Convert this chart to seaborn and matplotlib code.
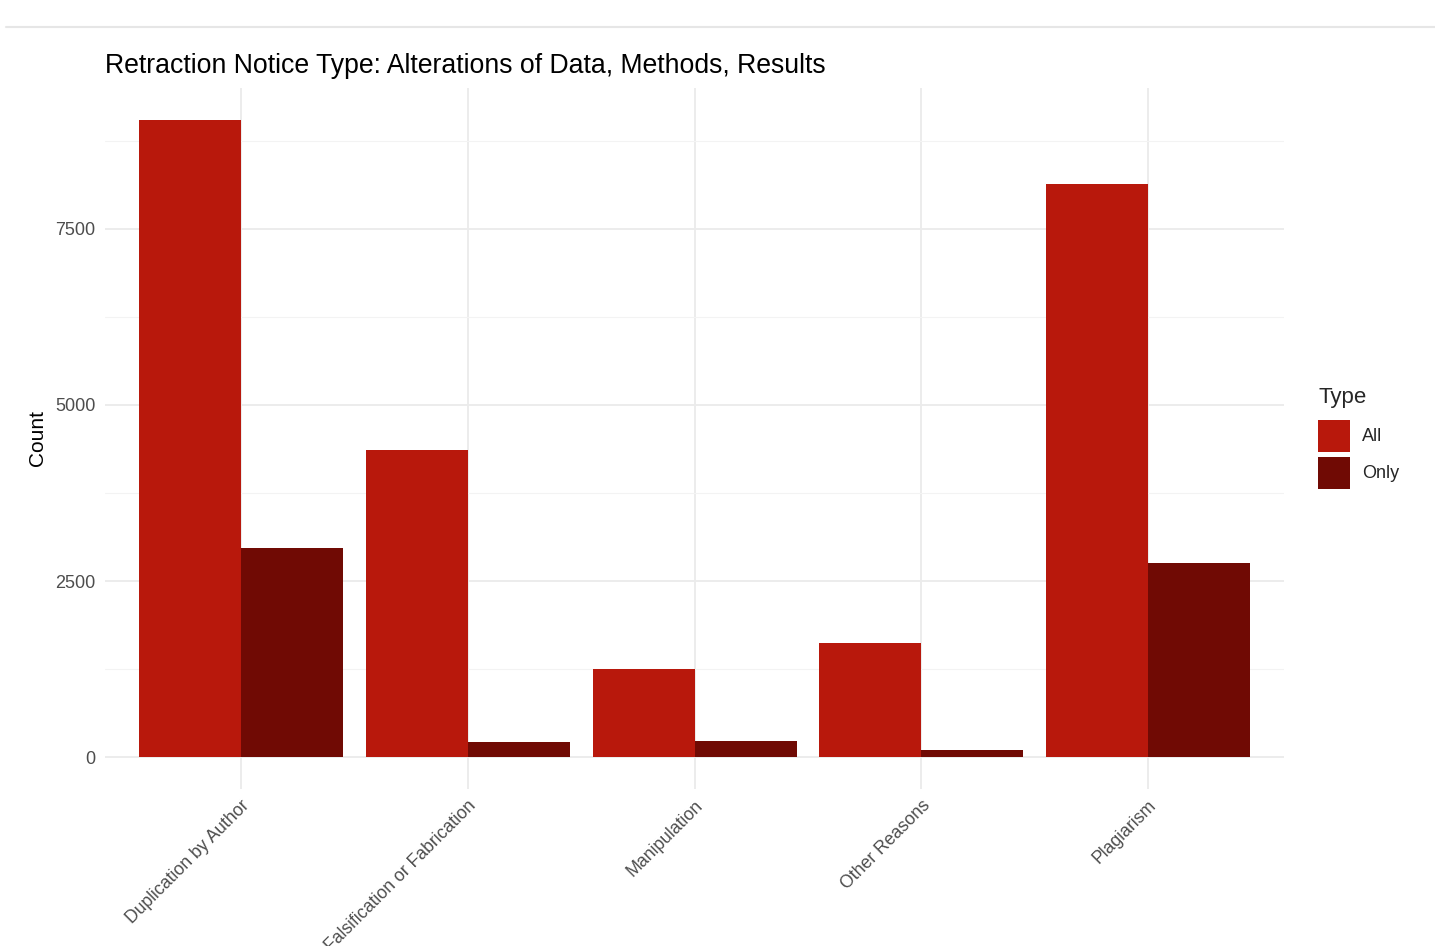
import numpy as np
import pandas as pd
import seaborn as sns
import matplotlib.pyplot as plt
from matplotlib.lines import Line2D
from matplotlib.ticker import MultipleLocator

# values
reasons = ["Duplication by Author", "Falsification or Fabrication", "Manipulation",
           "Other Reasons", "Plagiarism"]
all_counts = [9050, 4360, 1250, 1620, 8130]
only_counts = [2970, 215, 230, 100, 2760]
types = ["All", "Only"]
colors = {"All": "#B8180C", "Only": "#700A04"}

df = pd.DataFrame({
    "Reason": reasons * 2,
    "Count": all_counts + only_counts,
    "Type": ["All"] * len(reasons) + ["Only"] * len(reasons),
})

sns.set_theme(style="white")
plt.rcParams["font.family"] = ["Liberation Sans", "DejaVu Sans"]

fig = plt.figure(figsize=(14.35, 9.46), dpi=100)
ax = fig.add_axes([0.0732, 0.166, 0.8216, 0.741])

sns.barplot(data=df, x="Reason", y="Count", hue="Type", order=reasons, hue_order=types,
            palette=colors, saturation=1, width=0.9, errorbar=None, linewidth=0, ax=ax)

ax.set_xlim(-0.6, 4.6)
ax.set_ylim(-452, 9500)
ax.yaxis.set_major_locator(MultipleLocator(2500))
ax.yaxis.set_minor_locator(MultipleLocator(1250))
ax.grid(which="major", color="#EBEBEB", linewidth=1.3)
ax.grid(which="minor", axis="y", color="#F3F3F3", linewidth=0.8)
ax.set_axisbelow(True)
for s in ax.spines.values():
    s.set_visible(False)
ax.tick_params(which="both", length=0, labelsize=13, labelcolor="#4D4D4D")
ax.tick_params(axis="y", pad=7)
ax.set_yticks([0, 2500, 5000, 7500])
ax.set_yticklabels(["0", "2500", "5000", "7500"])
plt.setp(ax.get_xticklabels(), fontsize=12.7, rotation=45, ha="right", va="top",
         rotation_mode="anchor")
ax.tick_params(axis="x", pad=6)

ax.set_xlabel("")
ax.set_ylabel("Count", fontsize=15, color="black", labelpad=6)
ax.set_title("Retraction Notice Type: Alterations of Data, Methods, Results",
             fontsize=19.2, loc="left", x=0.0, pad=11, color="black")

leg = ax.legend(title="Type", loc="center left", bbox_to_anchor=(0.9136, 0.537),
                bbox_transform=fig.transFigure, frameon=False, fontsize=13,
                title_fontsize=16, handlelength=1.78, handleheight=2.35,
                handletextpad=0.65, labelspacing=0.28, borderaxespad=0, alignment="left")
# a bit more room between the legend title and the keys
leg._legend_box.sep = 8

# thin rule across the top of the screenshot
fig.add_artist(Line2D([0.004, 1.0], [0.971, 0.971], color="#E6E6E6", linewidth=1.5,
                      transform=fig.transFigure))

fig.savefig("out.png", dpi=100, facecolor="white")
